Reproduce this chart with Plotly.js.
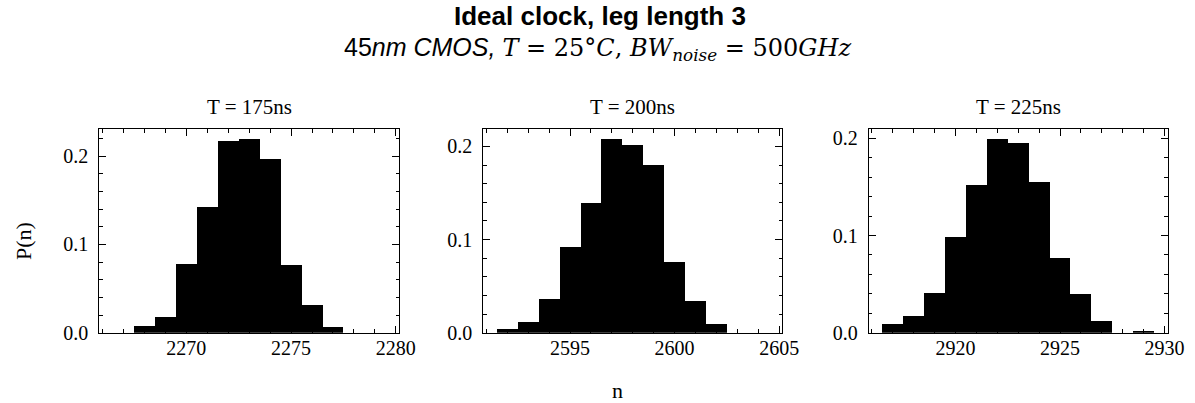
<!DOCTYPE html>
<html>
<head>
<meta charset="utf-8">
<script src="https://cdn.plot.ly/plotly-3.0.1.min.js"></script>
<style>
  html, body { margin: 0; padding: 0; background: #ffffff; }
  #chart { width: 1195px; height: 403px; }
</style>
</head>
<body>
<div id="chart"></div>
<script>
// ---- data ----
const titles = ["T = 175ns", "T = 200ns", "T = 225ns"];

const n175 = [2267, 2268, 2269, 2270, 2271, 2272, 2273, 2274, 2275, 2276, 2277, 2278, 2279];
const p175 = [0.0, 0.0075, 0.0177, 0.0780, 0.1428, 0.2166, 0.2196, 0.1970, 0.0768, 0.0316, 0.0064, 0.0, 0.0];

const n200 = [2592, 2593, 2594, 2595, 2596, 2597, 2598, 2599, 2600, 2601, 2602, 2603, 2604];
const p200 = [0.0036, 0.0118, 0.0357, 0.0918, 0.1393, 0.2083, 0.2018, 0.1804, 0.0764, 0.0343, 0.0093, 0.0, 0.0];

const n225 = [2917, 2918, 2919, 2920, 2921, 2922, 2923, 2924, 2925, 2926, 2927, 2928, 2929];
const p225 = [0.0093, 0.0168, 0.0411, 0.0987, 0.1518, 0.1997, 0.1956, 0.1549, 0.0768, 0.0394, 0.0120, 0.0, 0.0016];

const yTickVals = [0.0, 0.1, 0.2];

const mainTitle = "Ideal clock, leg length 3";
const xLabel = "n";
const yLabel = "P(n)";

// ---- layout geometry (pixels) ----
const W = 1195, H = 403;
const panelsPx = [[99.3, 399.0], [483.3, 782.3], [868.7, 1167.7]];
const plotTop = 129, plotBottom = 332.7;

const series = [[n175, p175], [n200, p200], [n225, p225]];

const serif = "Liberation Serif, Times New Roman, serif";
const sans = "Liberation Sans, Arial, sans-serif";

const traces = [];
const layout = {
  width: W, height: H,
  margin: {l: 0, r: 0, t: 0, b: 0},
  paper_bgcolor: "#ffffff",
  plot_bgcolor: "#ffffff",
  showlegend: false,
  bargap: 0,
  font: {family: serif, size: 20, color: "#000000"},
  annotations: []
};

const yDom = [(H - plotBottom) / H, (H - plotTop) / H];

series.forEach((s, i) => {
  const [xs, ys] = s;
  const suffix = i === 0 ? "" : String(i + 1);
  traces.push({
    type: "bar",
    x: xs, y: ys,
    width: 1,
    marker: {color: "#000000", line: {width: 0}},
    xaxis: "x" + suffix, yaxis: "y" + suffix,
    hoverinfo: "x+y"
  });
  const xmin = Math.min(...xs) - 0.5, xmax = Math.max(...xs) + 0.5;
  const pad = 0.05 * (xmax - xmin);
  const ymax = Math.max(...ys) * 1.05;
  const xa = {
    domain: [panelsPx[i][0] / W, panelsPx[i][1] / W],
    anchor: "y" + suffix,
    range: [xmin - pad, xmax + pad],
    showgrid: false, zeroline: false,
    showline: true, linecolor: "#000000", linewidth: 1, mirror: "ticks",
    ticks: "inside", ticklen: 7, tickwidth: 1, tickcolor: "#000000",
    tick0: 0, dtick: 5,
    minor: {ticks: "inside", ticklen: 3.5, tickwidth: 1, tickcolor: "#000000", dtick: 1, showgrid: false},
    tickfont: {family: serif, size: 20, color: "#000000"},
    ticklabelstandoff: -3
  };
  const ya = {
    domain: yDom,
    anchor: "x" + suffix,
    range: [0, ymax],
    showgrid: false, zeroline: false,
    showline: true, linecolor: "#000000", linewidth: 1, mirror: "ticks",
    ticks: "inside", ticklen: 7, tickwidth: 1, tickcolor: "#000000",
    tickmode: "array", tickvals: yTickVals, ticktext: yTickVals.map(v => v.toFixed(1)),
    minor: {ticks: "inside", ticklen: 3.5, tickwidth: 1, tickcolor: "#000000", dtick: 0.02, tick0: 0, showgrid: false},
    tickfont: {family: serif, size: 20, color: "#000000"},
    ticklabelstandoff: 6
  };
  layout["xaxis" + suffix] = xa;
  layout["yaxis" + suffix] = ya;

  layout.annotations.push({
    text: titles[i],
    xref: "paper", yref: "paper",
    x: (panelsPx[i][0] + panelsPx[i][1]) / 2 / W,
    y: (H - 121) / H,
    xanchor: "center", yanchor: "bottom",
    showarrow: false,
    font: {family: serif, size: 21, color: "#000000"}
  });
});

// main titles
layout.annotations.push({
  text: "<b>" + mainTitle + "</b>",
  xref: "paper", yref: "paper", x: 600 / W, y: (H - 33) / H,
  xanchor: "center", yanchor: "bottom", showarrow: false,
  font: {family: sans, size: 26, color: "#000000"}
});
layout.annotations.push({
  text: "45<i>nm CMOS,</i> <span style='font-family:DejaVu Serif;font-size:24px'><i>T</i> = 25°<i>C</i>, <i>BW</i><sub><i>noise</i></sub> = 500<i>GHz</i></span>",
  xref: "paper", yref: "paper", x: 597 / W, y: (H - 67) / H,
  xanchor: "center", yanchor: "bottom", showarrow: false,
  font: {family: sans, size: 25, color: "#000000"}
});
// axis labels
layout.annotations.push({
  text: xLabel,
  xref: "paper", yref: "paper", x: 617 / W, y: (H - 390) / H,
  xanchor: "center", yanchor: "middle", showarrow: false,
  font: {family: serif, size: 22, color: "#000000"}
});
layout.annotations.push({
  text: yLabel,
  xref: "paper", yref: "paper", x: 23 / W, y: (H - 241) / H,
  xanchor: "center", yanchor: "middle", showarrow: false, textangle: -90,
  font: {family: serif, size: 22, color: "#000000"}
});

Plotly.newPlot("chart", traces, layout, {displayModeBar: false, staticPlot: true});
</script>
</body>
</html>
